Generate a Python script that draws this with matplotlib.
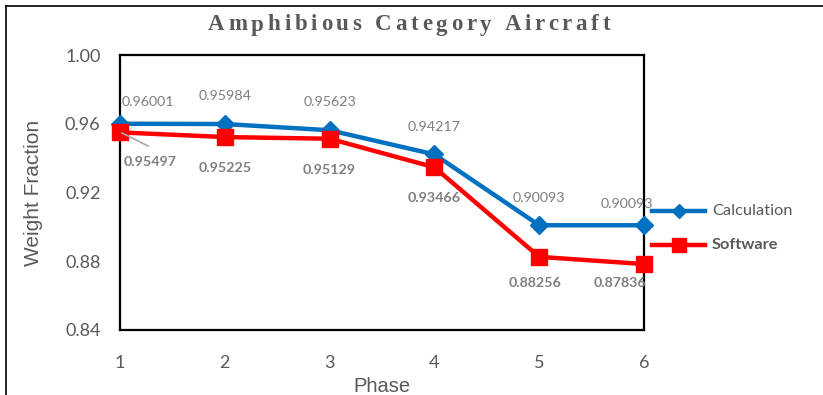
import matplotlib
matplotlib.use("Agg")
import matplotlib.pyplot as plt
from matplotlib.lines import Line2D

# weight fraction per mission phase
phases = [1, 2, 3, 4, 5, 6]
calculation = [0.96001, 0.95984, 0.95623, 0.94217, 0.90093, 0.90093]
software = [0.95497, 0.95225, 0.95129, 0.93466, 0.88256, 0.87836]
y_ticks = [0.84, 0.88, 0.92, 0.96, 1.00]

W, H = 823, 395
fig = plt.figure(figsize=(W / 100, H / 100), dpi=100)
fig.patch.set_facecolor("white")

# axes box in pixel coords -> figure fractions
left, right, top, bottom = 120, 644, 55, 330
ax = fig.add_axes([left / W, (H - bottom) / H, (right - left) / W, (bottom - top) / H])

blue = "#0070C0"
red = "#FF0000"
grey = "#595959"
lbl = "#7F7F7F"

ax.plot(phases, calculation, color=blue, lw=3.2, marker="D", ms=9,
        mfc=blue, mec=blue, zorder=3, clip_on=False)
ax.plot(phases, software, color=red, lw=3.2, marker="s", ms=12,
        mfc=red, mec=red, zorder=4, clip_on=False)

ax.set_xlim(1, 6)
ax.set_ylim(0.84, 1.00)
ax.set_xticks(phases)
ax.set_yticks(y_ticks)
ax.set_yticklabels([f"{v:.2f}" for v in y_ticks])
ax.tick_params(length=0, labelsize=13, labelcolor=grey, pad=14)
ax.tick_params(axis="x", pad=18)
for t in ax.get_xticklabels() + ax.get_yticklabels():
    t.set_family("Lato")
for s in ax.spines.values():
    s.set_linewidth(1.6)
    s.set_color("black")

ax.set_xlabel("Phase", fontsize=14.5, color=grey, family="Liberation Sans", labelpad=4)
ax.set_ylabel("Weight Fraction", fontsize=15, color=grey, family="Liberation Sans", labelpad=16)

# value labels (offsets in pixels)
calc_off = [(28, 22), (0, 28), (0, 28), (0, 27), (0, 27), (-17, 21)]
soft_off = [(30, -30), (0, -31), (0, -31), (0, -31), (-4, -26), (-24, -19)]
for x, v, (dx, dy) in zip(phases, calculation, calc_off):
    ax.annotate(f"{v:.5f}", (x, v), xytext=(dx, dy), textcoords="offset pixels",
                ha="center", va="center", fontsize=10.3, color=lbl, family="Lato",
                annotation_clip=False)
for x, v, (dx, dy) in zip(phases, software, soft_off):
    ax.annotate(f"{v:.5f}", (x, v), xytext=(dx, dy), textcoords="offset pixels",
                ha="center", va="center", fontsize=10.3, color=lbl, family="Lato",
                fontweight="bold", annotation_clip=False)

# leader line for the first software label
fig.add_artist(Line2D([122 / W, 148 / W], [1 - 133 / H, 1 - 146 / H],
                      color="#A6A6A6", lw=1.2, zorder=5))

# legend drawn by hand on the right
leg = [("Calculation", blue, "D", 7, 211, "normal"),
       ("Software", red, "s", 10, 245, "bold")]
for name, c, m, ms, yp, fw in leg:
    yf = 1 - yp / H
    fig.add_artist(Line2D([652 / W, 705 / W], [yf, yf], color=c, lw=3.2))
    fig.add_artist(Line2D([678.5 / W], [yf], color=c, marker=m, ms=ms, mec=c, mfc=c))
    fig.text(712 / W, yf, name, fontsize=11.8, color=grey, family="Lato",
             fontweight=fw, va="center", ha="left")

# outer frame, top and left only
fig.add_artist(Line2D([6 / W, 1], [1 - 6 / H, 1 - 6 / H], color="black", lw=1.2))
fig.add_artist(Line2D([6 / W, 6 / W], [0, 1 - 6 / H], color="black", lw=1.2))

# spaced-out title placed letter by letter
title = "Amphibious Category Aircraft"
tkw = dict(fontsize=16.5, fontweight="bold", family="Liberation Serif", color=grey)
renderer = fig.canvas.get_renderer()

def text_width(s):
    t = fig.text(0, 0, s + "|", **tkw)
    w = t.get_window_extent(renderer).width
    t.remove()
    t = fig.text(0, 0, "|", **tkw)
    w -= t.get_window_extent(renderer).width
    t.remove()
    return w

full = text_width(title)
x0, x1 = 208, 610
track = (x1 - x0 - full) / (len(title) - 1)
for i, ch in enumerate(title):
    if ch == " ":
        continue
    xp = x0 + text_width(title[:i]) + i * track
    fig.text(xp / W, 1 - 25 / H, ch, ha="left", va="center", **tkw)

fig.savefig("out.png", dpi=100)
